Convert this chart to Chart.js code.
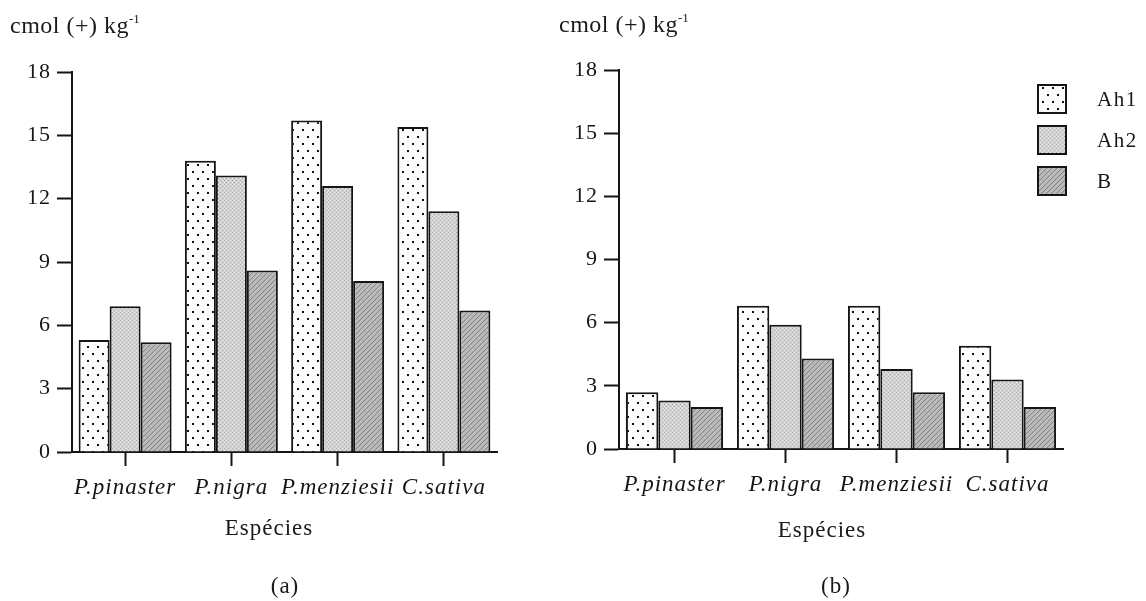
<!DOCTYPE html>
<html>
<head>
<meta charset="utf-8">
<script src="https://cdn.jsdelivr.net/npm/chart.js@4.4.1/dist/chart.umd.min.js"></script>
<style>
  html, body { margin: 0; padding: 0; background: #fff; width: 1146px; height: 601px; overflow: hidden; }
  body { position: relative; font-family: "Liberation Serif", "Times New Roman", serif; color: #1a1a1a; }
  .wrap { position: absolute; top: 0; height: 601px; }
  #wa { left: 0; width: 560px; }
  #wb { left: 560px; width: 586px; }
  .txt { position: absolute; white-space: nowrap; line-height: 1; }
  .unit { font-size: 24px; letter-spacing: 0.5px; }
  .cap { font-size: 23px; letter-spacing: 1px; }
  .ctr { transform: translateX(-50%); }
  .txt sup { font-size: 13px; letter-spacing: 0; vertical-align: 10px; line-height: 0; }
</style>
</head>
<body>
<div class="wrap" id="wa"><canvas id="chartA" width="560" height="601"></canvas></div>
<div class="wrap" id="wb"><canvas id="chartB" width="586" height="601"></canvas></div>

<div class="txt unit" style="left:10px; top:13px;">cmol (+) kg<sup>-1</sup></div>
<div class="txt unit" style="left:559px; top:12px;">cmol (+) kg<sup>-1</sup></div>
<div class="txt cap ctr" style="left:269px; top:516px;">Espécies</div>
<div class="txt cap ctr" style="left:822px; top:518px;">Espécies</div>
<div class="txt cap ctr" style="left:285px; top:574px;">(a)</div>
<div class="txt cap ctr" style="left:836px; top:574px;">(b)</div>

<script>
// Species and soil horizons
const categories = ['P.pinaster', 'P.nigra', 'P.menziesii', 'C.sativa'];
const horizons = ['Ah1', 'Ah2', 'B'];

// Panel (a), cmol(+) kg-1
const ah1A = [5.3, 13.8, 15.7, 15.4];
const ah2A = [6.9, 13.1, 12.6, 11.4];
const bA   = [5.2, 8.6, 8.1, 6.7];

// Panel (b), cmol(+) kg-1
const ah1B = [2.7, 6.8, 6.8, 4.9];
const ah2B = [2.3, 5.9, 3.8, 3.3];
const bB   = [2.0, 4.3, 2.7, 2.0];

// Y axis ticks
const yTicks = [0, 3, 6, 9, 12, 15, 18];

// Fill patterns for the three horizons
function makePattern(kind) {
  const c = document.createElement('canvas');
  const g = c.getContext('2d');
  if (kind === 'dots') {
    c.width = 10; c.height = 14;
    g.fillStyle = '#fcfcfc'; g.fillRect(0, 0, 10, 14);
    g.fillStyle = '#111';
    g.fillRect(2, 3, 2, 2);
    g.fillRect(7, 10, 2, 2);
  } else if (kind === 'mesh') {
    c.width = 4; c.height = 4;
    g.fillStyle = '#d2d2d2'; g.fillRect(0, 0, 4, 4);
    g.fillStyle = '#ababab';
    g.fillRect(0, 0, 1, 1); g.fillRect(2, 2, 1, 1);
    g.fillStyle = '#e9e9e9';
    g.fillRect(2, 0, 1, 1); g.fillRect(0, 2, 1, 1);
  } else {
    c.width = 5; c.height = 5;
    g.fillStyle = '#bababa'; g.fillRect(0, 0, 5, 5);
    g.fillStyle = '#828282';
    for (let i = 0; i < 5; i++) g.fillRect(i, 4 - i, 1, 1);
  }
  return g.createPattern(c, 'repeat');
}

const fills = [makePattern('dots'), makePattern('mesh'), makePattern('hatch')];
const ink = '#151515';

Chart.defaults.color = ink;
Chart.defaults.font.family = '"Liberation Serif", "Times New Roman", serif';

// Slightly spaced lettering, as in the printed figure
const spacing = {
  id: 'spacing',
  beforeDraw(chart) { chart.ctx.letterSpacing = '1px'; }
};

// Legend drawn as a column of pattern swatches
const swatchLegend = {
  id: 'swatchLegend',
  afterDraw(chart, args, opts) {
    if (!opts.show) return;
    const ctx = chart.ctx;
    ctx.save();
    ctx.letterSpacing = '1.5px';
    chart.data.datasets.forEach((ds, i) => {
      const x = opts.x, y = opts.y + i * opts.step;
      ctx.fillStyle = ds.backgroundColor;
      ctx.fillRect(x, y, opts.size, opts.size);
      ctx.lineWidth = 2;
      ctx.strokeStyle = ink;
      ctx.strokeRect(x, y, opts.size, opts.size);
      ctx.fillStyle = ink;
      ctx.font = '21px "Liberation Serif", serif';
      ctx.textBaseline = 'middle';
      ctx.textAlign = 'left';
      ctx.fillText(ds.label, opts.textX, y + opts.size / 2 + 1);
    });
    ctx.restore();
  }
};

function buildChart(id, series, geom, legend) {
  const datasets = series.map((vals, i) => ({
    label: horizons[i],
    data: vals,
    backgroundColor: fills[i],
    borderColor: ink,
    borderWidth: 2,
    barPercentage: 1.0,
    categoryPercentage: 0.875
  }));
  return new Chart(document.getElementById(id), {
    type: 'bar',
    data: { labels: categories, datasets },
    options: {
      responsive: false,
      animation: false,
      layout: { padding: { left: 0, top: geom.top, right: geom.right, bottom: 0 } },
      plugins: {
        legend: { display: false },
        tooltip: { enabled: false },
        swatchLegend: legend
      },
      scales: {
        x: {
          afterFit(s) { s.height = geom.xh; },
          grid: { offset: false, drawOnChartArea: false, drawTicks: true, tickLength: 14, tickWidth: 2, tickColor: ink },
          border: { display: true, width: 2, color: ink },
          ticks: {
            autoSkip: false, maxRotation: 0, minRotation: 0, padding: 8, color: ink,
            font: { size: 23, style: 'italic' }
          }
        },
        y: {
          min: 0, max: 18,
          afterFit(s) { s.width = geom.yw; },
          afterBuildTicks(s) { s.ticks = yTicks.map(v => ({ value: v })); },
          grid: { drawOnChartArea: false, drawTicks: true, tickLength: 15, tickWidth: 2, tickColor: ink },
          border: { display: true, width: 2, color: ink },
          ticks: { padding: 6, color: ink, font: { size: 22 } }
        }
      }
    },
    plugins: [spacing, swatchLegend]
  });
}

buildChart('chartA', [ah1A, ah2A, bA], { top: 72, right: 63, xh: 149, yw: 72 }, { show: false });
buildChart('chartB', [ah1B, ah2B, bB], { top: 70, right: 83, xh: 152, yw: 59 },
  { show: true, x: 478, y: 85, step: 41, size: 28, textX: 537 });
</script>
</body>
</html>
